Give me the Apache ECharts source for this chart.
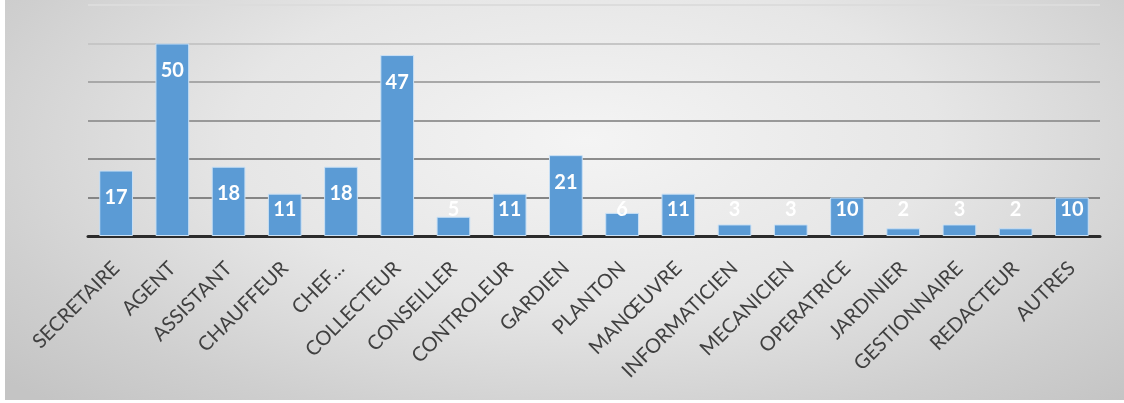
<!DOCTYPE html>
<html>
<head>
<meta charset="utf-8">
<script src="https://cdn.jsdelivr.net/npm/echarts@6/dist/echarts.min.js"></script>
<style>
html,body{margin:0;padding:0;background:#ffffff;}
#frame{position:absolute;left:5px;top:0;width:1119px;height:400px;
 background:radial-gradient(ellipse 70% 90% at 52% 35%, #f4f4f4 0%, #e6e6e6 45%, #cfcfcf 80%, #c4c4c4 100%);}
#chart{position:absolute;left:0;top:0;width:1124px;height:403px;}
</style>
</head>
<body>
<div id="frame"></div>
<div id="chart"></div>
<script>
var categories = ["SECRETAIRE","AGENT","ASSISTANT","CHAUFFEUR","CHEF…","COLLECTEUR","CONSEILLER","CONTROLEUR","GARDIEN","PLANTON","MANŒUVRE","INFORMATICIEN","MECANICIEN","OPERATRICE","JARDINIER","GESTIONNAIRE","REDACTEUR","AUTRES"];
var values = [17,50,18,11,18,47,5,11,21,6,11,3,3,10,2,3,2,10];
var yMin = 0, yMax = 60, yStep = 10;

var chart = echarts.init(document.getElementById('chart'), null, {renderer:'canvas'});
chart.setOption({
  backgroundColor: 'transparent',
  animation: false,
  grid: {left: 88, right: 24, top: 5, bottom: 167, containLabel: false},
  xAxis: {
    type: 'category',
    data: categories,
    axisLine: {show: true, lineStyle: {color: '#2b2b2b', width: 3}},
    axisTick: {show: false},
    axisLabel: {rotate: 45, margin: 29, color: '#404040', fontFamily: 'Lato', fontSize: 20, interval: 0}
  },
  yAxis: {
    type: 'value', min: yMin, max: yMax, interval: yStep,
    axisLabel: {show: false}, axisLine: {show: false}, axisTick: {show: false},
    splitLine: {show: true, lineStyle: {width: 2, color: ['#808080','#858585','#8c8c8c','#999999','#a8a8a8','#c6c6c6','#dcdcdc']}}
  },
  series: [{
    type: 'bar',
    data: values,
    barCategoryGap: '40%',
    itemStyle: {color: '#5b9bd5', borderColor: '#c9e0f5', borderWidth: 1},
    label: {
      show: true, position: 'insideTop', color: '#ffffff',
      fontFamily: 'Lato', fontWeight: 'bold', fontSize: 20
    },
    labelLayout: function (p) {
      var r = p.rect;
      return {
        x: r.x + r.width / 2,
        y: Math.min(r.y + 27, r.y + r.height - 26),
        align: 'center',
        verticalAlign: 'middle'
      };
    }
  }]
});
</script>
</body>
</html>
